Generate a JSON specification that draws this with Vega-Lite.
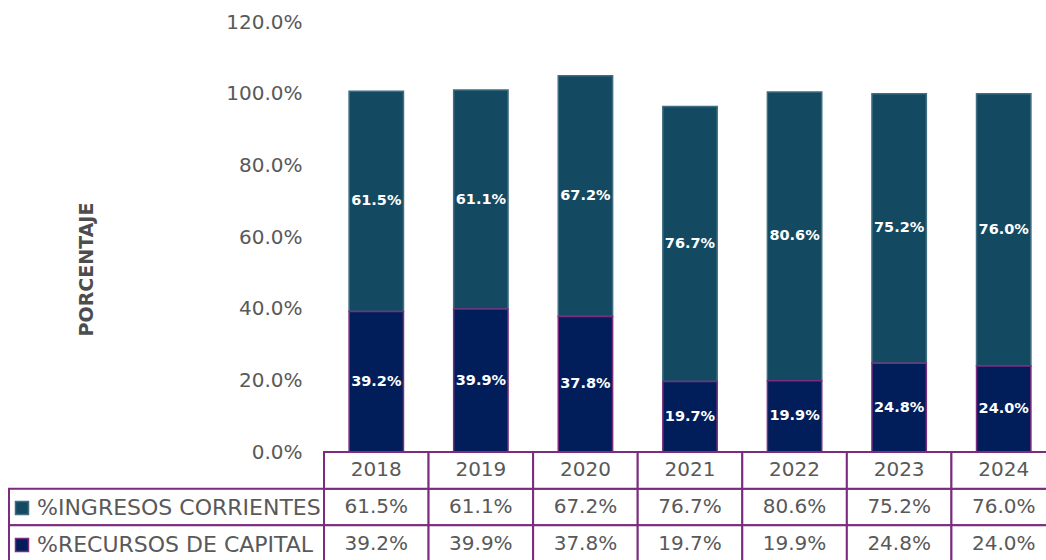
{
  "$schema": "https://vega.github.io/schema/vega-lite/v6.json",
  "background": "white",
  "padding": {"left": 8, "top": 12, "right": 0, "bottom": 0},
  "config": {"view": {"stroke": null}},
  "datasets": {
    "d": [
      {"year": "2018", "serie": "%INGRESOS CORRIENTES", "v": 0.615},
      {"year": "2019", "serie": "%INGRESOS CORRIENTES", "v": 0.611},
      {"year": "2020", "serie": "%INGRESOS CORRIENTES", "v": 0.672},
      {"year": "2021", "serie": "%INGRESOS CORRIENTES", "v": 0.767},
      {"year": "2022", "serie": "%INGRESOS CORRIENTES", "v": 0.806},
      {"year": "2023", "serie": "%INGRESOS CORRIENTES", "v": 0.752},
      {"year": "2024", "serie": "%INGRESOS CORRIENTES", "v": 0.760},
      {"year": "2018", "serie": "%RECURSOS DE CAPITAL", "v": 0.392},
      {"year": "2019", "serie": "%RECURSOS DE CAPITAL", "v": 0.399},
      {"year": "2020", "serie": "%RECURSOS DE CAPITAL", "v": 0.378},
      {"year": "2021", "serie": "%RECURSOS DE CAPITAL", "v": 0.197},
      {"year": "2022", "serie": "%RECURSOS DE CAPITAL", "v": 0.199},
      {"year": "2023", "serie": "%RECURSOS DE CAPITAL", "v": 0.248},
      {"year": "2024", "serie": "%RECURSOS DE CAPITAL", "v": 0.240}
    ],
    "years": [
      {"year": "2018"}, {"year": "2019"}, {"year": "2020"}, {"year": "2021"},
      {"year": "2022"}, {"year": "2023"}, {"year": "2024"}
    ],
    "series": [
      {"serie": "%INGRESOS CORRIENTES"},
      {"serie": "%RECURSOS DE CAPITAL"}
    ]
  },
  "columns": 2,
  "spacing": 0,
  "bounds": "flush",
  "align": "each",
  "concat": [
    {
      "width": 315,
      "height": 430,
      "data": {"values": []},
      "mark": "rect"
    },
    {
      "width": 732,
      "height": 430,
      "data": {"name": "d"},
      "layer": [
        {
          "mark": {"type": "bar", "strokeWidth": 1.5},
          "encoding": {
            "x": {"field": "year", "type": "ordinal", "axis": null, "scale": {"paddingInner": 0.48, "paddingOuter": 0.24}},
            "y": {
              "field": "v", "type": "quantitative", "stack": "zero",
              "scale": {"domain": [0, 1.2]},
              "axis": {
                "values": [0, 0.2, 0.4, 0.6, 0.8, 1.0, 1.2],
                "format": ".1%",
                "grid": false, "domain": false, "ticks": false,
                "labelPadding": 22,
                "labelFont": "DejaVu Sans", "labelFontSize": 20, "labelColor": "#595959",
                "title": "PORCENTAJE",
                "titleFont": "DejaVu Sans", "titleFontSize": 19, "titleFontWeight": "bold", "titleColor": "#4D4D4D",
                "titleX": -238, "titleY": 247, "titleAngle": -90, "titleBaseline": "middle", "titleAlign": "center"
              }
            },
            "fill": {
              "field": "serie", "type": "nominal",
              "scale": {"domain": ["%INGRESOS CORRIENTES", "%RECURSOS DE CAPITAL"], "range": ["#134A62", "#011E5B"]},
              "legend": {"orient": "none", "legendX": 2, "legendY": 475, "title": null, "symbolType": "square", "symbolSize": 169, "symbolStrokeWidth": 1.5, "labelFont": "DejaVu Sans", "labelFontSize": 22, "labelColor": "#595959", "labelOffset": 4, "rowPadding": 15, "padding": 0, "labelLimit": 400}
            },
            "stroke": {
              "field": "serie", "type": "nominal",
              "scale": {"domain": ["%INGRESOS CORRIENTES", "%RECURSOS DE CAPITAL"], "range": ["#3F6D82", "#7B2C7F"]},
              "legend": {"orient": "none", "legendX": 2, "legendY": 475, "title": null, "symbolType": "square", "symbolSize": 169, "symbolStrokeWidth": 1.5, "labelFont": "DejaVu Sans", "labelFontSize": 22, "labelColor": "#595959", "labelOffset": 4, "rowPadding": 15, "padding": 0, "labelLimit": 400}
            },
            "order": {"field": "serie", "sort": "descending"}
          }
        },
        {
          "transform": [
            {"stack": "v", "groupby": ["year"], "sort": [{"field": "serie", "order": "descending"}], "as": ["v0", "v1"]},
            {"calculate": "(datum.v0 + datum.v1) / 2", "as": "mid"}
          ],
          "mark": {"type": "text", "font": "DejaVu Sans", "fontWeight": "bold", "fontSize": 14.5, "fill": "white", "baseline": "middle"},
          "encoding": {
            "x": {"field": "year", "type": "ordinal"},
            "y": {"field": "mid", "type": "quantitative"},
            "text": {"field": "v", "type": "quantitative", "format": ".1%"}
          }
        }
      ]
    },
    {
      "width": 315,
      "height": 110,
      "data": {"name": "series"},
      "mark": {"type": "rect", "fill": "white", "stroke": "#7B2C7F", "strokeWidth": 2},
      "encoding": {
        "y": {"field": "serie", "type": "nominal", "axis": null, "scale": {"domain": ["Año", "%INGRESOS CORRIENTES", "%RECURSOS DE CAPITAL"], "padding": 0}}
      }
    },
    {
      "width": 732,
      "height": 110,
      "layer": [
        {
          "data": {"name": "d"},
          "mark": {"type": "rect", "fill": "white", "stroke": "#7B2C7F", "strokeWidth": 2},
          "encoding": {
            "x": {"field": "year", "type": "ordinal", "axis": null, "scale": {"padding": 0}},
            "y": {"field": "serie", "type": "nominal", "axis": null, "scale": {"domain": ["Año", "%INGRESOS CORRIENTES", "%RECURSOS DE CAPITAL"], "padding": 0}}
          }
        },
        {
          "data": {"name": "years"},
          "mark": {"type": "rect", "fill": "white", "stroke": "#7B2C7F", "strokeWidth": 2},
          "encoding": {
            "x": {"field": "year", "type": "ordinal"},
            "y": {"datum": "Año", "type": "nominal"}
          }
        },
        {
          "data": {"name": "d"},
          "mark": {"type": "text", "font": "DejaVu Sans", "fontSize": 20, "fill": "#595959", "baseline": "middle"},
          "encoding": {
            "x": {"field": "year", "type": "ordinal"},
            "y": {"field": "serie", "type": "nominal"},
            "text": {"field": "v", "type": "quantitative", "format": ".1%"}
          }
        },
        {
          "data": {"name": "years"},
          "mark": {"type": "text", "font": "DejaVu Sans", "fontSize": 20, "fill": "#595959", "baseline": "middle"},
          "encoding": {
            "x": {"field": "year", "type": "ordinal"},
            "y": {"datum": "Año", "type": "nominal"},
            "text": {"field": "year"}
          }
        }
      ]
    }
  ]
}
